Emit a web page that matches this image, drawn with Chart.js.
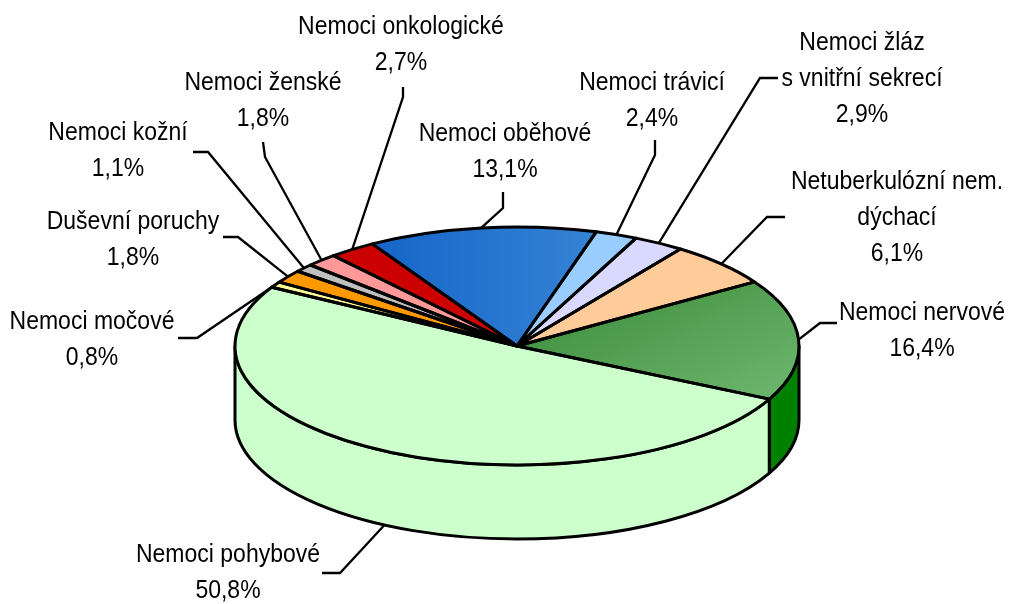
<!DOCTYPE html>
<html>
<head>
<meta charset="utf-8">
<script src="https://cdn.jsdelivr.net/npm/chart.js@4/dist/chart.umd.min.js"></script>
<style>
  html, body { margin: 0; padding: 0; background: #fff; overflow: hidden; }
  canvas { display: block; }
</style>
</head>
<body>
<canvas id="pie" width="1009" height="604"></canvas>
<script>
// Data (share of cases, %)
const categories = ['Nemoci pohybové', 'Nemoci močové', 'Duševní poruchy', 'Nemoci kožní', 'Nemoci ženské',
    'Nemoci onkologické', 'Nemoci oběhové', 'Nemoci trávicí', 'Nemoci žláz\ns vnitřní sekrecí',
    'Netuberkulózní nem.\ndýchací', 'Nemoci nervové'];
const shares = [50.8, 0.8, 1.8, 1.1, 1.8, 2.7, 13.1, 2.4, 2.9, 6.1, 16.4];

// Styles
const topColors = ['#CCFFCC', '#FFFF99', '#FF9900', '#C0C0C0', '#FF9999', '#CC0000', '#1F6FD0', '#99CCFF', '#D9D9FF', '#FFCC99', '#4C9C4C'];
const sideColors = ['#CCFFCC', '#CCCC77', '#CC7A00', '#999999', '#CC7A7A', '#990000', '#0F4FA0', '#7AA3CC', '#ADADCC', '#CCA37A', '#008000'];

// Label layout: text centre x, first line y, tail start x/y, elbow x/y
const labelLayout = [
    [228, 555, 322, 573, 340, 573],
    [92, 322, 178, 338, 197, 338],
    [133, 222, 223, 237, 238, 237],
    [118, 133, 193, 152, 208, 152],
    [263, 83, 263, 142, 265, 157],
    [401, 27, 403, 87, 403, 97],
    [505, 134, 503, 192, 503, 208],
    [652, 83, 655, 140, 655, 155],
    [862, 43, 778, 78, 760, 78],
    [897, 182, 785, 217, 767, 217],
    [922, 313, 837, 323, 820, 323]
];

// 3D geometry on screen
const CX = 517, CY = 346, RX = 282, RY = 119, DEPTH = 74;
const LINE_H = 36;

function sliceColor(c) {
    const i = c.dataIndex;
    const a = c.chart.chartArea;
    if (!a || (i !== 6 && i !== 10)) return topColors[i];
    const cx = (a.left + a.right) / 2, cy = (a.top + a.bottom) / 2;
    const R = Math.min(a.right - a.left, a.bottom - a.top) / 2;
    const g = c.chart.ctx;
    if (i === 6) {
        const grad = g.createLinearGradient(cx - R, cy, cx + R, cy);
        grad.addColorStop(0.2, '#1262C8');
        grad.addColorStop(0.65, '#3584D5');
        return grad;
    }
    const grad = g.createLinearGradient(cx, cy - 0.6 * R, cx + R, cy + 0.3 * R);
    grad.addColorStop(0, '#368836');
    grad.addColorStop(1, '#6CB46C');
    return grad;
}

const norm = a => ((a % (2 * Math.PI)) + 2 * Math.PI) % (2 * Math.PI);

const pie3d = {
    id: 'pie3d',
    beforeDatasetsDraw(chart) {
        const ctx = chart.ctx;
        const arcs = chart.getDatasetMeta(0).data;
        ctx.save();
        ctx.lineWidth = 3;
        ctx.strokeStyle = '#000';
        ctx.lineJoin = 'round';
        arcs.forEach((arc, i) => {
            const a0 = norm(arc.startAngle);
            const a1 = a0 + (arc.endAngle - arc.startAngle);
            [0, 2 * Math.PI].forEach(base => {
                const s = Math.max(a0, base), e = Math.min(a1, base + Math.PI);
                if (e <= s) return;
                ctx.beginPath();
                ctx.ellipse(CX, CY, RX, RY, 0, s, e);
                ctx.lineTo(CX + RX * Math.cos(e), CY + RY * Math.sin(e) + DEPTH);
                ctx.ellipse(CX, CY + DEPTH, RX, RY, 0, e, s, true);
                ctx.closePath();
                ctx.fillStyle = sideColors[i];
                ctx.fill();
                ctx.stroke();
            });
        });
        ctx.restore();

        // squash the library's pie into the top ellipse
        const first = arcs[0];
        ctx.save();
        ctx.translate(CX, CY);
        ctx.scale(RX / first.outerRadius, RY / first.outerRadius);
        ctx.translate(-first.x, -first.y);
    },
    afterDatasetsDraw(chart) {
        const ctx = chart.ctx;
        ctx.restore();
        const arcs = chart.getDatasetMeta(0).data;

        ctx.save();
        ctx.lineWidth = 3;
        ctx.strokeStyle = '#000';
        ctx.lineJoin = 'round';
        arcs.forEach(arc => {
            ctx.beginPath();
            ctx.moveTo(CX, CY);
            ctx.ellipse(CX, CY, RX, RY, 0, arc.startAngle, arc.endAngle);
            ctx.closePath();
            ctx.stroke();
        });

        // labels + leader lines
        ctx.lineWidth = 2.3;
        ctx.lineJoin = 'miter';
        ctx.font = '23px "Liberation Sans", Arial, sans-serif';
        ctx.fillStyle = '#000';
        ctx.textAlign = 'center';
        ctx.textBaseline = 'middle';
        arcs.forEach((arc, i) => {
            const L = labelLayout[i];
            const mid = norm((arc.startAngle + arc.endAngle) / 2);
            const px = CX + RX * Math.cos(mid);
            const py = CY + RY * Math.sin(mid) + (mid < Math.PI ? DEPTH : 0);
            ctx.beginPath();
            ctx.moveTo(L[2], L[3]);
            ctx.lineTo(L[4], L[5]);
            ctx.lineTo(px, py);
            ctx.stroke();

            const lines = categories[i].split('\n');
            lines.push(shares[i].toFixed(1).replace('.', ',') + '%');
            lines.forEach((t, k) => {
                ctx.save();
                ctx.translate(L[0], L[1] + k * LINE_H);
                ctx.scale(1, 1.1);
                ctx.fillText(t, 0, 0);
                ctx.restore();
            });
        });
        ctx.restore();
    }
};

new Chart(document.getElementById('pie'), {
    type: 'pie',
    data: {
        labels: categories,
        datasets: [{
            data: shares,
            backgroundColor: sliceColor,
            borderWidth: 0
        }]
    },
    options: {
        responsive: false,
        animation: false,
        events: [],
        rotation: 116.5,
        layout: { padding: 0 },
        plugins: {
            legend: { display: false },
            tooltip: { enabled: false }
        }
    },
    plugins: [pie3d]
});
</script>
</body>
</html>
